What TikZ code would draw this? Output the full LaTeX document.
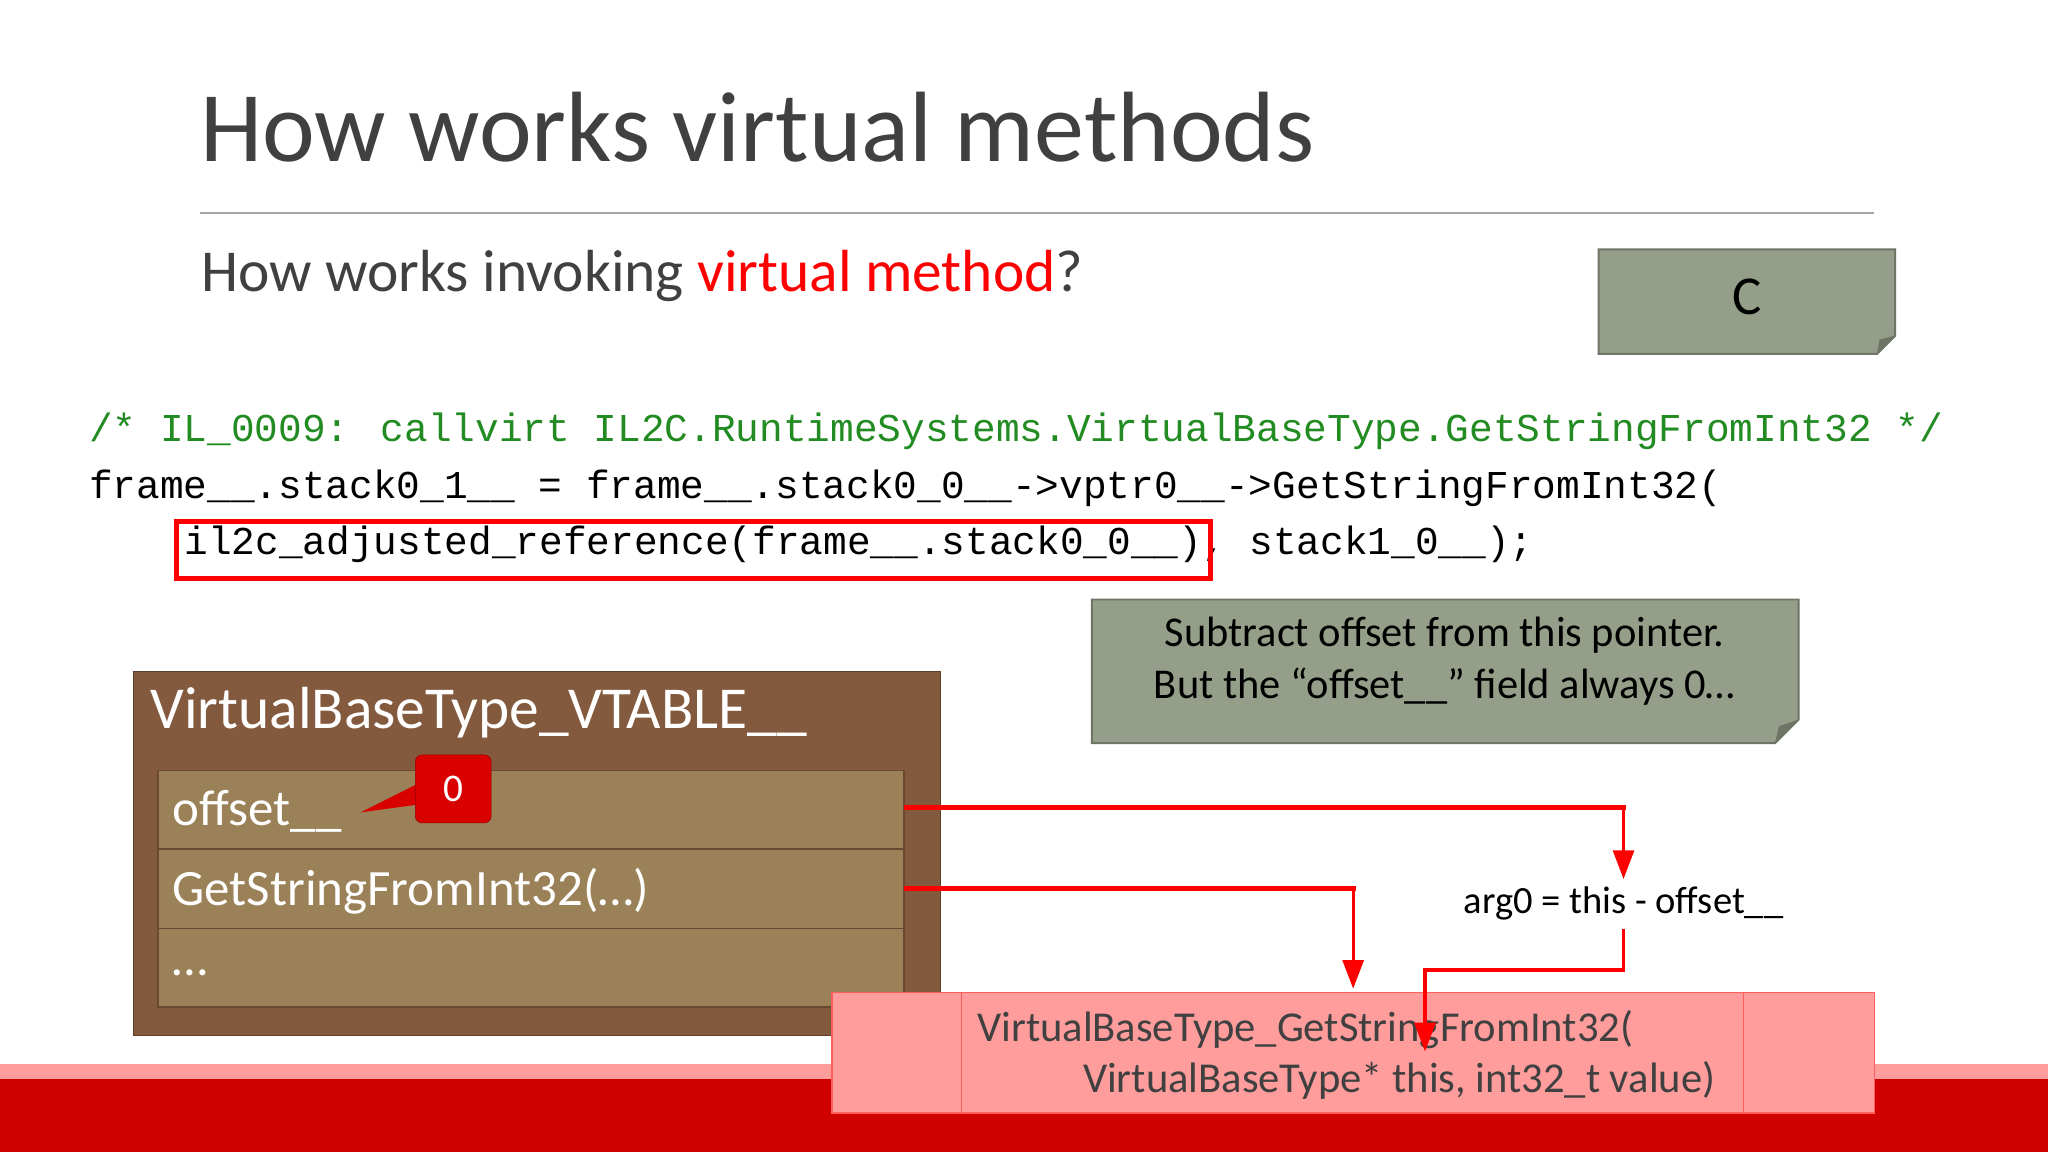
\documentclass[tikz,border=0pt]{standalone}
\usepackage{fontspec}
\setmainfont{Carlito}
\newfontfamily\codefont{Liberation Mono}
\usetikzlibrary{arrows.meta}
\definecolor{titlegray}{HTML}{404040}
\definecolor{brownbox}{HTML}{845A3F}
\definecolor{rowfill}{HTML}{9A8157}
\definecolor{notegreen}{HTML}{949E88}
\definecolor{noteedge}{HTML}{6E7566}
\definecolor{pinkbox}{HTML}{FF9C9C}
\definecolor{bandred}{HTML}{D00000}
\definecolor{codegreen}{HTML}{228B22}
\definecolor{arrred}{HTML}{FF0000}
\tikzset{
  row/.style={fill=rowfill, draw=brownbox!80!black, line width=1pt},
  code/.style={anchor=west, inner sep=0pt, font=\codefont\fontsize{30.2}{31}\selectfont},
  conn/.style={draw=arrred, line width=4pt},
  connarrow/.style={draw=arrred, line width=2.5pt, -{Triangle[length=22pt,width=16pt]}},
  txt/.style={inner sep=0pt},
}
\begin{document}
\begin{tikzpicture}[x=1pt,y=-1pt]
\useasboundingbox (0,0) rectangle (1568,882);
\fill[white] (0,0) rectangle (1568,882);
% bottom band
\fill[pinkbox] (0,815) rectangle (1568,826);
\fill[bandred] (0,826) rectangle (1568,882);
% title
\node[txt, anchor=west, text=titlegray, font=\fontsize{76.5}{84}\selectfont] (title) at (153,97) {How works virtual methods};
\draw[gray!70, line width=1.2pt] (153,163) -- (1435,163);
\node[txt, anchor=west, text=titlegray, font=\fontsize{45.5}{50}\selectfont] (sub) at (154,211) {How works invoking \textcolor{red}{virtual method}?};
% C note
\path[fill=notegreen, draw=noteedge, line width=1.5pt] (1224,191) -- (1451,191) -- (1451,257) -- (1437,271) -- (1224,271) -- cycle;
\fill[noteedge] (1451,257) -- (1437,271) -- (1439,260) -- cycle;
\node[txt, font=\fontsize{42}{46}\selectfont] (cnote) at (1338,227) {C};
% code
\node[code, text=codegreen] (l1) at (68,330) {/* IL\_0009: callvirt IL2C.RuntimeSystems.VirtualBaseType.GetStringFromInt32 */};
\node[code] (l2) at (68,374) {frame\_\_.stack0\_1\_\_ = frame\_\_.stack0\_0\_\_->vptr0\_\_->GetStringFromInt32(};
\node[code] (l3) at (141,417) {il2c\_adjusted\_reference(frame\_\_.stack0\_0\_\_), stack1\_0\_\_);};
\node[draw=red, line width=4pt, inner sep=0pt, minimum width=792pt, minimum height=44pt, anchor=north west] (hl) at (133,397) {};
% note box
\path[fill=notegreen, draw=noteedge, line width=1.5pt] (836,459) -- (1377,459) -- (1377,551) -- (1359,569) -- (836,569) -- cycle;
\fill[noteedge] (1377,551) -- (1359,569) -- (1362,556) -- cycle;
\node[txt, align=center, font=\fontsize{32.5}{40}\selectfont] (note) at (1106,506) {Subtract offset from this pointer.\\But the “offset\_\_” field always 0…};
% vtable
\fill[brownbox] (102,514) rectangle (720,793);
\draw[brownbox!70!black, line width=1pt] (102,514) rectangle (720,793);
\node[txt, anchor=west, text=white, font=\fontsize{45.5}{50}\selectfont] (vt) at (115,546) {VirtualBaseType\_VTABLE\_\_};
\path[row] (121,590) rectangle (692,650);
\path[row] (121,650) rectangle (692,711);
\path[row] (121,711) rectangle (692,771);
\coordinate (r1e) at (692,618);
\coordinate (r2e) at (692,680);
\node[txt, anchor=west, text=white, font=\fontsize{39}{44}\selectfont] (off) at (132,621) {offset\_\_};
\node[txt, anchor=west, text=white, font=\fontsize{39}{44}\selectfont] (gs) at (132,682) {GetStringFromInt32(…)};
\node[txt, anchor=west, text=white, font=\fontsize{39}{44}\selectfont] (dots) at (132,745) {…};
% callout 0
\fill[red!85!black] (276,622) -- (320,600) -- (320,616) -- cycle;
\node[fill=red!85!black, draw=red!60!black, rounded corners=5pt, minimum width=58pt, minimum height=52pt, inner sep=0pt, text=white, font=\fontsize{30}{32}\selectfont] (zero) at (347,604) {0};
% pink function box
\fill[pinkbox] (637,760) rectangle (1435,852);
\draw[red!40!pinkbox, line width=1.2pt] (637,760) rectangle (1435,852) (736,760) -- (736,852) (1335,760) -- (1335,852);
\node[txt, anchor=west, text=titlegray, font=\fontsize{32.6}{36}\selectfont] (f1) at (748,788) {VirtualBaseType\_GetStringFromInt32(};
\node[txt, anchor=west, text=titlegray, font=\fontsize{32.6}{36}\selectfont] (f2) at (829,827) {VirtualBaseType* this, int32\_t value)};
\coordinate (fin) at (1036,757);
\coordinate (argin) at (1091,805);
% label
\node[txt, fill=white, inner sep=6pt, font=\fontsize{29.5}{32}\selectfont] (arg) at (1243,692) {arg0 = this - offset\_\_};
% connectors
\draw[conn] (r1e) -- (1245,618);
\draw[connarrow] (1243,618) -- (arg.north);
\draw[conn] (r2e) -- (1038,680);
\draw[connarrow] (1036,680) -- (fin);
\draw[draw=arrred, line width=3pt] (arg.south) -- (1243,743) -- (1091,743);
\draw[connarrow] (1091,741.5) -- (argin);
\end{tikzpicture}
\end{document}
